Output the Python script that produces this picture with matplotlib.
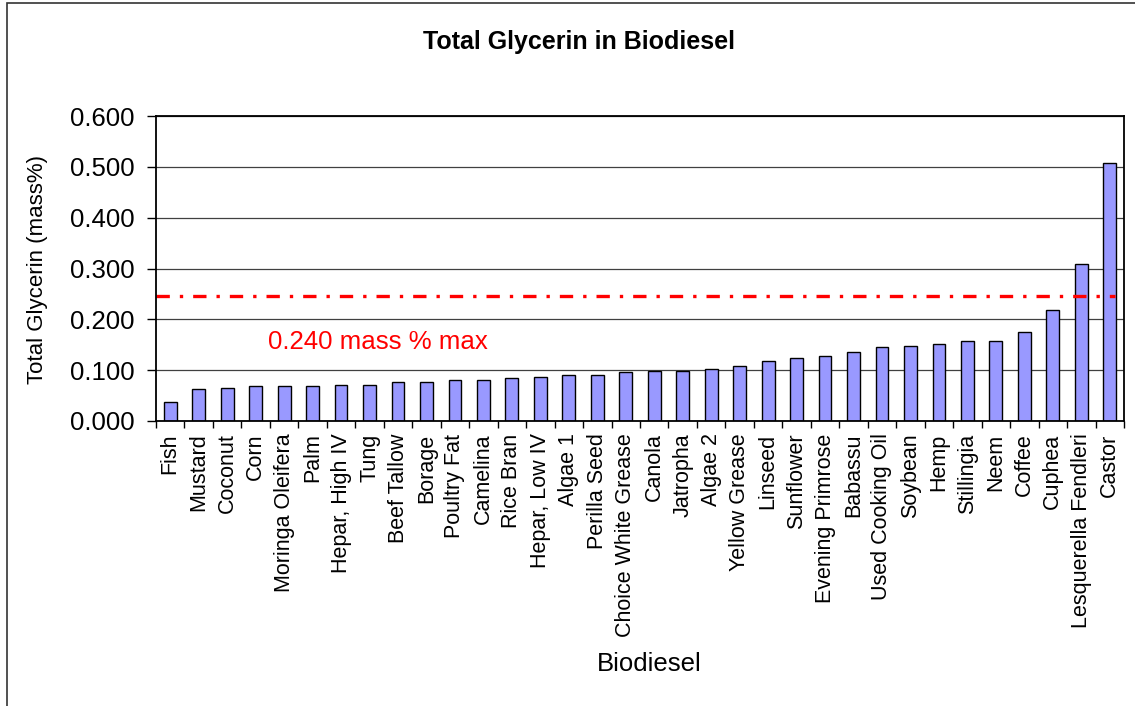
import numpy as np
import matplotlib.pyplot as plt
from matplotlib.patches import Rectangle

plt.rcParams['font.family'] = ['Liberation Sans', 'DejaVu Sans']

names = ['Fish', 'Mustard', 'Coconut', 'Corn', 'Moringa Oleifera', 'Palm',
         'Hepar, High IV', 'Tung', 'Beef Tallow', 'Borage', 'Poultry Fat',
         'Camelina', 'Rice Bran', 'Hepar, Low IV', 'Algae 1', 'Perilla Seed',
         'Choice White Grease', 'Canola', 'Jatropha', 'Algae 2', 'Yellow Grease',
         'Linseed', 'Sunflower', 'Evening Primrose', 'Babassu', 'Used Cooking Oil',
         'Soybean', 'Hemp', 'Stillingia', 'Neem', 'Coffee', 'Cuphea',
         'Lesquerella Fendleri', 'Castor']
glycerin = [0.038, 0.062, 0.064, 0.068, 0.068, 0.068,
            0.071, 0.071, 0.077, 0.077, 0.081,
            0.081, 0.084, 0.087, 0.091, 0.091,
            0.096, 0.099, 0.099, 0.103, 0.109,
            0.119, 0.123, 0.128, 0.135, 0.145,
            0.148, 0.151, 0.157, 0.157, 0.176, 0.218,
            0.308, 0.507]
limit = 0.245
limit_text = '0.240 mass % max'
yticks = [0.0, 0.1, 0.2, 0.3, 0.4, 0.5, 0.6]

fig = plt.figure(figsize=(11.35, 7.06), dpi=100)
ax = fig.add_axes([156/1135, 1-421/706, (1124-156)/1135, (421-116)/706])

x = np.arange(len(names))
ax.set_axisbelow(True)
ax.yaxis.grid(True, color='#404040', lw=0.9)
ax.bar(x, glycerin, width=0.45, color='#9999ff', edgecolor='black', lw=1.0)

# spec limit line
ax.hlines(limit, -0.5, len(names) - 0.8, color='red', lw=2.4,
          linestyles=(0, (4, 3, 1, 3)))
ax.text(3.45, 0.156, limit_text, color='red', fontsize=18.6, ha='left', va='center')

ax.set_xlim(-0.5, len(names) - 0.5)
ax.set_ylim(0, 0.6)
ax.set_yticks(yticks)
ax.set_yticklabels(['%.3f' % v for v in yticks], fontsize=18.5)
ax.tick_params(axis='y', length=6.5, width=1, direction='out', pad=9)

ax.set_xticks(x)
ax.set_xticklabels(names, rotation=90, fontsize=15.5)
ax.set_xticks(np.arange(len(names) + 1) - 0.5, minor=True)
ax.tick_params(axis='x', which='major', length=0, pad=9)
ax.tick_params(axis='x', which='minor', length=5, width=1, direction='out')

for s in ax.spines.values():
    s.set_color('black')
    s.set_linewidth(1.3)

fig.text(579/1135, 1-42/706, 'Total Glycerin in Biodiesel', fontsize=18,
         fontweight='bold', ha='center', va='center')
fig.text(649/1135, 1-664/706, 'Biodiesel', fontsize=18.5, ha='center', va='center')
fig.text(38/1135, 1-270/706, 'Total Glycerin (mass%)', fontsize=16, rotation=90,
         ha='center', va='center')

# outer chart border (right/bottom run off the image)
fig.patches.append(Rectangle((7/1135, -0.1), 1.2, 0.1 + 703/706,
                             transform=fig.transFigure, fill=False,
                             edgecolor='#333333', lw=1.2))

fig.savefig('out.png', dpi=100)
